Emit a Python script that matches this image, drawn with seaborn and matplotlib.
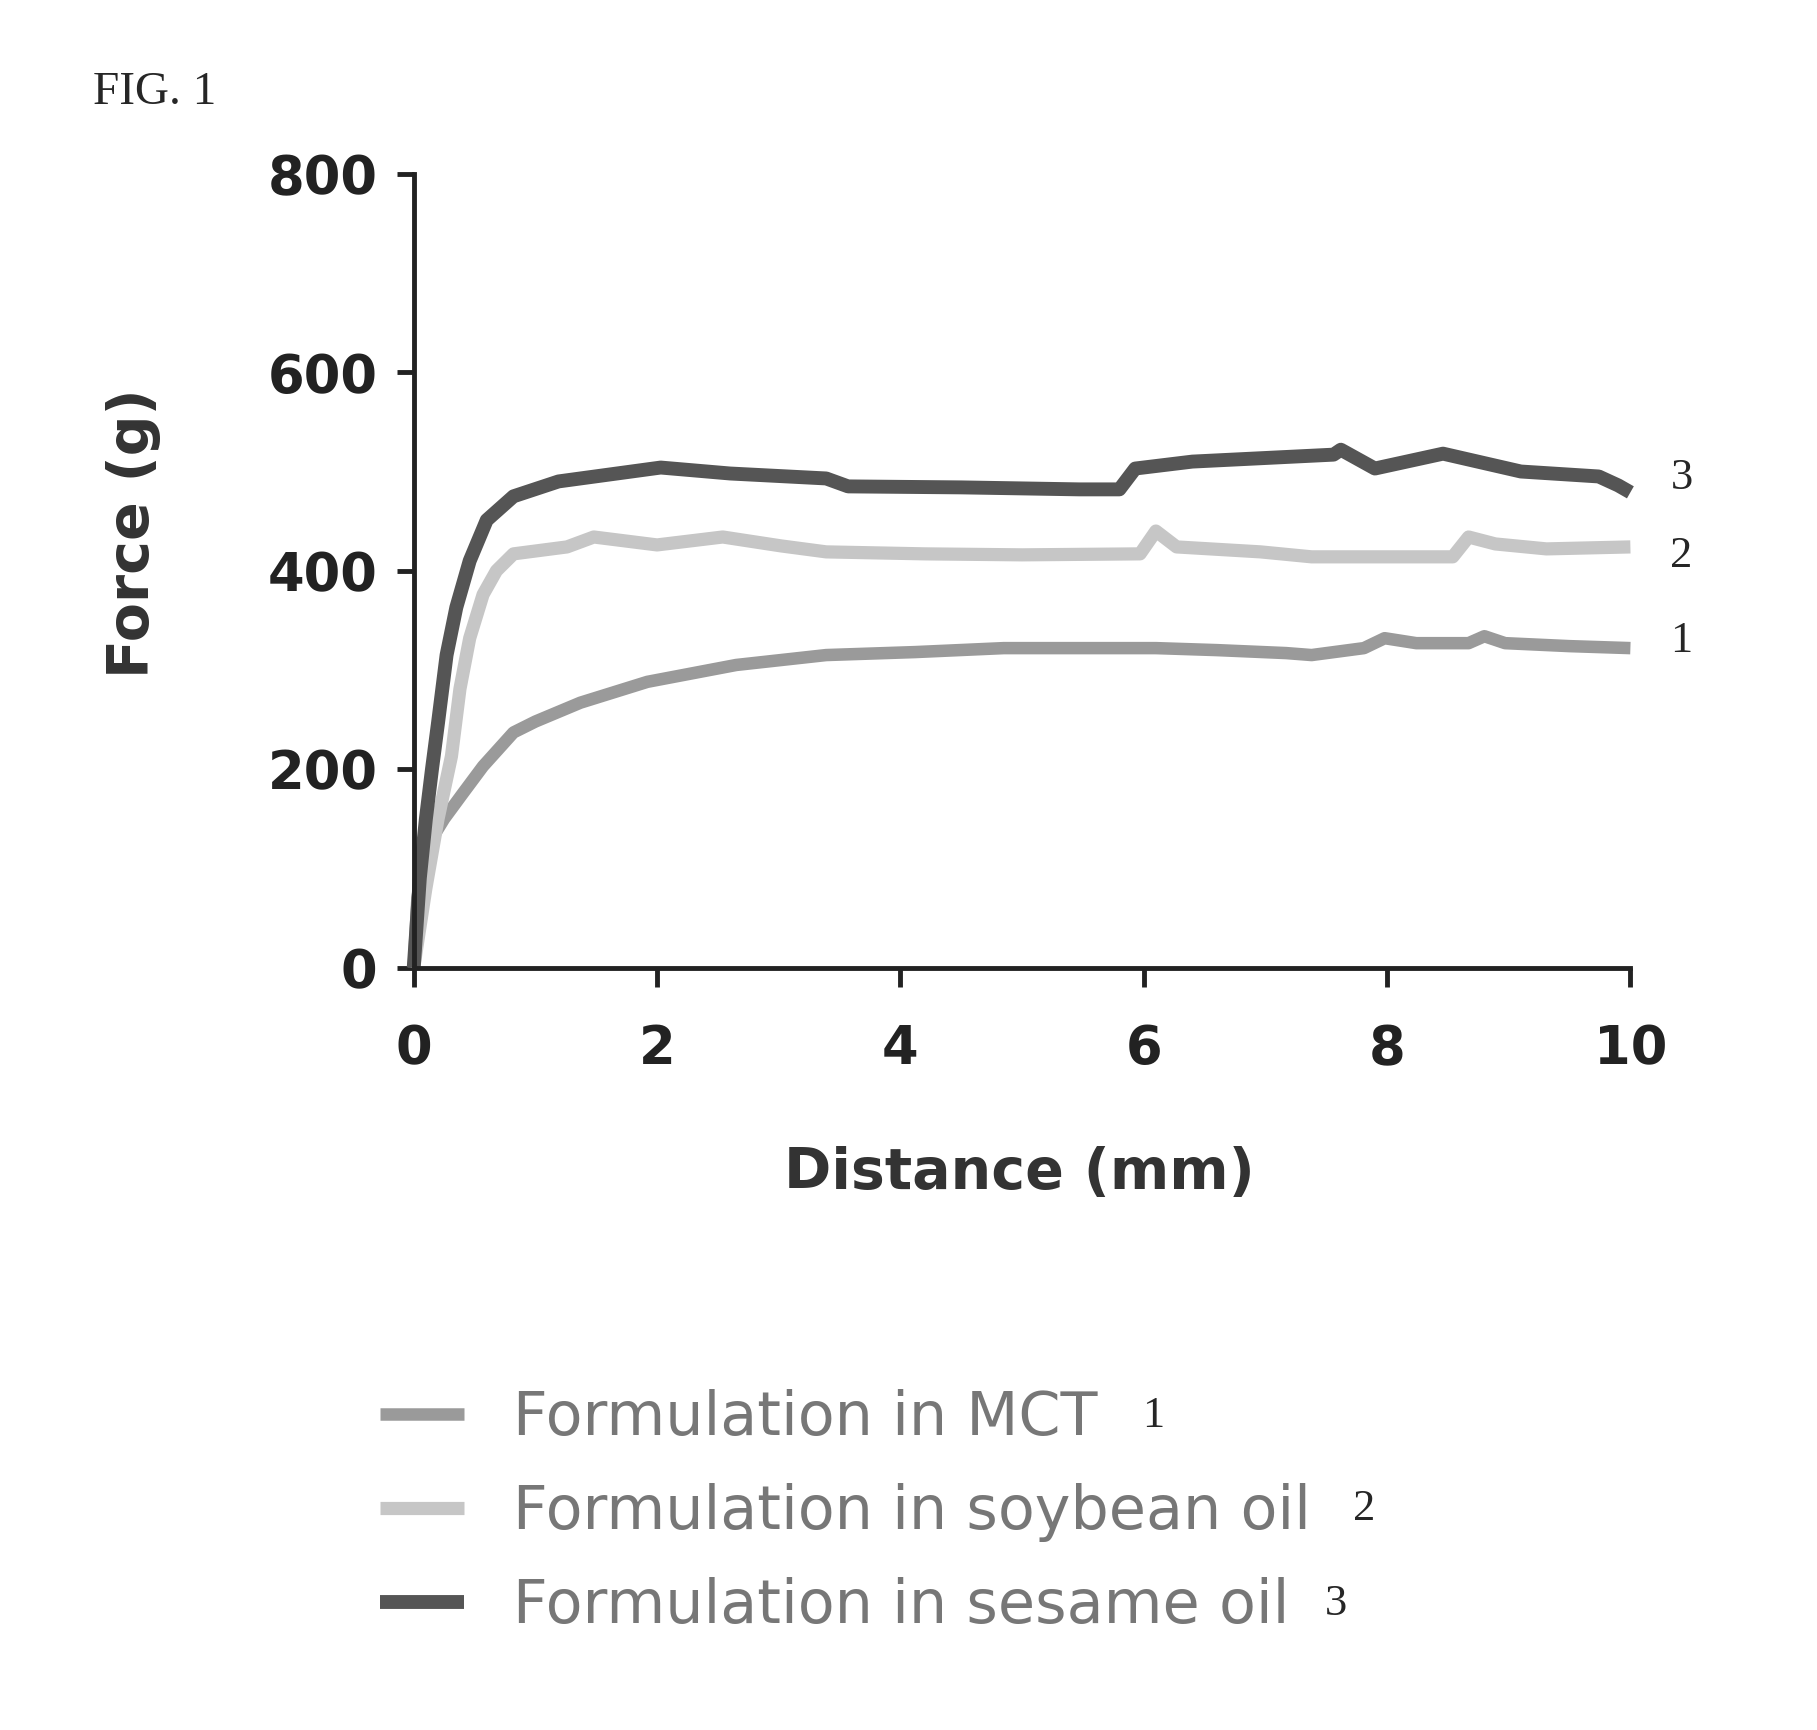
import numpy as np
import matplotlib
matplotlib.use("Agg")
import matplotlib.pyplot as plt
import pandas as pd
import seaborn as sns

labels = ["Formulation in MCT", "Formulation in soybean oil", "Formulation in sesame oil"]
tags = ["1", "2", "3"]

# distance (mm) / force (g)
x_mct = [0, 0.03, 0.08, 0.15, 0.25, 0.4, 0.57, 0.82, 1.0, 1.37, 1.92, 2.65, 3.39, 4.12, 4.85,
         5.5, 6.1, 6.6, 7.17, 7.38, 7.81, 7.98, 8.24, 8.67, 8.8, 8.97, 9.5, 10.0]
y_mct = [0, 70, 105, 130, 150, 175, 203, 237, 248, 267, 288, 305, 315, 318, 322,
         322, 322, 320, 317, 315, 322, 332, 327, 327, 334, 327, 324, 322]

x_soy = [0, 0.1, 0.2, 0.31, 0.38, 0.46, 0.57, 0.68, 0.82, 1.26, 1.48, 2.0, 2.54, 3.02, 3.39,
         4.2, 5.0, 5.97, 6.1, 6.27, 6.96, 7.38, 8.0, 8.54, 8.67, 8.89, 9.31, 10.0]
y_soy = [0, 80, 150, 213, 281, 332, 376, 400, 417, 424, 434, 426, 434, 425, 419,
         417, 416, 417, 440, 424, 419, 414, 414, 414, 434, 427, 422, 424]

x_ses = [0, 0.05, 0.1, 0.15, 0.2, 0.27, 0.35, 0.46, 0.6, 0.82, 1.19, 2.03, 2.6, 3.39, 3.57,
         4.5, 5.47, 5.8, 5.93, 6.4, 7.56, 7.62, 7.9, 8.46, 9.1, 9.74, 9.9, 10.0]
y_ses = [0, 90, 150, 200, 247, 315, 363, 410, 451, 475, 490, 504, 498, 493, 485,
         484, 482, 482, 503, 510, 517, 522, 503, 518, 500, 495, 486, 479]

x_ticks = [0, 2, 4, 6, 8, 10]
y_ticks = [0, 200, 400, 600, 800]

colors = ["#9a9a9a", "#c6c6c6", "#555555"]
widths = [9, 9.5, 10]

df = pd.concat([
    pd.DataFrame({"Distance": x_mct, "Force": y_mct, "sample": labels[0]}),
    pd.DataFrame({"Distance": x_soy, "Force": y_soy, "sample": labels[1]}),
    pd.DataFrame({"Distance": x_ses, "Force": y_ses, "sample": labels[2]}),
], ignore_index=True)

sns.set_style("ticks")

fig = plt.figure(figsize=(18.17, 17.30), dpi=100)
ax = fig.add_axes([0.2277, 0.4407, 0.6696, 0.4588])

for i, lab in enumerate(labels):
    sub = df[df["sample"] == lab]
    sns.lineplot(data=sub, x="Distance", y="Force", ax=ax, color=colors[i],
                 lw=widths[i], label=lab, sort=False, estimator=None, clip_on=False,
                 solid_capstyle="butt")

ax.set_xlim(0, 10)
ax.set_ylim(0, 800)
ax.set_xticks(x_ticks)
ax.set_yticks(y_ticks)
sns.despine(ax=ax)
for s in ["left", "bottom"]:
    ax.spines[s].set_linewidth(3.5)
    ax.spines[s].set_color("#222222")

ax.tick_params(axis="y", length=12, width=3.5, pad=14, color="#222222")
ax.tick_params(axis="x", length=14, width=3.5, pad=26, color="#222222")
for t in ax.get_xticklabels() + ax.get_yticklabels():
    t.set_fontsize(38)
    t.set_fontweight("bold")
    t.set_fontfamily("DejaVu Sans")
    t.set_color("#222222")

ax.set_xlabel("Distance (mm)", fontsize=41, fontweight="bold",
              family="DejaVu Sans", color="#333333")
ax.set_ylabel("Force (g)", fontsize=41, fontweight="bold",
              family="DejaVu Sans", color="#333333")
ax.xaxis.set_label_coords(0.498, -0.2588)
ax.xaxis.label.set_verticalalignment("center")
ax.yaxis.set_label_coords(-0.2307, 0.5475)
ax.yaxis.label.set_verticalalignment("center")

# numbers at the right end of the curves
for tag, yv in zip(tags, [329, 415, 493]):
    ax.text(10.42, yv, tag, fontsize=32, family="Liberation Serif",
            ha="center", va="center", clip_on=False)

handles, _ = ax.get_legend_handles_labels()
ax.get_legend().remove()
leg = fig.legend(handles, labels, loc="center left", bbox_to_anchor=(0.209, 0.1257),
                 frameon=False, handlelength=1.4, handletextpad=0.8,
                 labelspacing=0.58, borderpad=0, borderaxespad=0,
                 prop={"family": "DejaVu Sans", "size": 43.5})
for t in leg.get_texts():
    t.set_color("#777777")

fig.text(1153 / 1817, 1 - 1416 / 1730, "1", fontsize=32, family="Liberation Serif",
         ha="center", va="center")
fig.text(1364 / 1817, 1 - 1509 / 1730, "2", fontsize=32, family="Liberation Serif",
         ha="center", va="center")
fig.text(1336 / 1817, 1 - 1604 / 1730, "3", fontsize=32, family="Liberation Serif",
         ha="center", va="center")

fig.text(93 / 1817, 1 - 93 / 1730, "FIG. 1", fontsize=34, family="Liberation Serif",
         ha="left", va="center")

fig.savefig("out.png", dpi=100)
